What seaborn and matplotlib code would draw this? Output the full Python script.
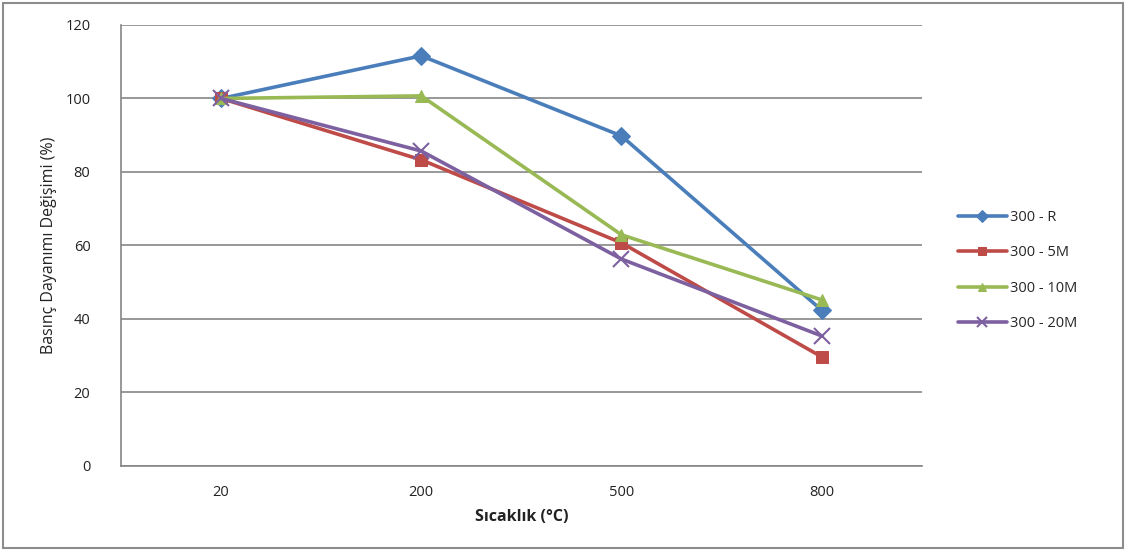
import matplotlib
matplotlib.use("Agg")
import matplotlib.pyplot as plt
import seaborn as sns
import pandas as pd
from matplotlib.patches import Rectangle

temps = ["20", "200", "500", "800"]
series_names = ["300 - R", "300 - 5M", "300 - 10M", "300 - 20M"]
vals_R = [100, 111.6, 89.8, 42.4]
vals_5M = [100, 83.3, 60.7, 29.7]
vals_10M = [100, 100.7, 62.9, 45.2]
vals_20M = [100, 85.7, 56.3, 35.4]
yticks = [0, 20, 40, 60, 80, 100, 120]

colors = ["#4a7ebb", "#be4b48", "#98b954", "#7d60a0"]
markers = ["D", "s", "^", "X"]

rows = []
for name, vals in zip(series_names, [vals_R, vals_5M, vals_10M, vals_20M]):
    for t, v in zip(temps, vals):
        rows.append({"Sıcaklık": t, "Değer": v, "Seri": name})
df = pd.DataFrame(rows)

sns.set_theme(style="white")
plt.rcParams["font.family"] = ["Open Sans", "DejaVu Sans"]

fig = plt.figure(figsize=(11.31, 5.52), dpi=100)
ax = fig.add_axes([0.107, 0.1558, 0.708, 0.799])

for name, c, m in zip(series_names, colors, markers):
    sub = df[df["Seri"] == name]
    sns.lineplot(data=sub, x="Sıcaklık", y="Değer", ax=ax, color=c, linewidth=2.6,
                 marker=m, markersize=9 if m != "X" else 10, markeredgecolor=c,
                 label=name, sort=False)
line20 = ax.get_lines()[3]
line20.set_marker("x")
line20.set_markersize(11)
line20.set_markeredgewidth(1.5)

ax.set_xlim(-0.5, 3.5)
ax.set_ylim(0, 120)
ax.set_yticks(yticks)
ax.set_yticklabels([str(v) for v in yticks], fontsize=10.5, color="#222222")
ax.tick_params(axis="x", labelsize=10.5, colors="#222222", pad=14, length=0)
ax.tick_params(axis="y", pad=22, length=0)
ax.yaxis.grid(True, color="#868686", linewidth=1.2)
ax.set_axisbelow(True)
for s in ["top", "right"]:
    ax.spines[s].set_visible(False)
for s in ["left", "bottom"]:
    ax.spines[s].set_color("#868686")
    ax.spines[s].set_linewidth(1.2)

ax.set_xlabel("Sıcaklık (°C)", fontsize=11.5, fontweight="bold", color="#222222", labelpad=6)
ax.set_ylabel("Basınç Dayanımı Değişimi (%)", fontsize=11.5, color="#222222", labelpad=6)

ax.get_legend().remove()
handles, labels = ax.get_legend_handles_labels()
fig.legend(handles, labels, loc="center left", bbox_to_anchor=(0.835, 0.51),
           frameon=False, fontsize=10.5, handlelength=3.4, labelspacing=1.4,
           handletextpad=0.2, markerscale=0.7)

fig.patches.append(Rectangle((0.003, 0.007), 0.99, 0.988, transform=fig.transFigure,
                             fill=False, edgecolor="#8c8c8c", linewidth=1.5))

fig.savefig("out.png", dpi=100)
